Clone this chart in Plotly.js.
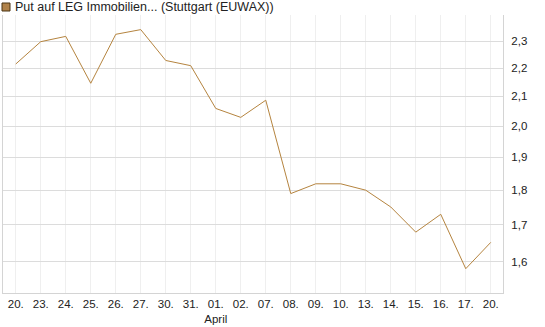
<!DOCTYPE html>
<html>
<head>
<meta charset="utf-8">
<script src="https://cdn.plot.ly/plotly-3.0.1.min.js"></script>
<style>html,body{margin:0;padding:0;background:#fff;}#chart{width:545px;height:327px;}</style>
</head>
<body>
<div id="chart"></div>
<script>
// Data
var dayLabels = ["20.", "23.", "24.", "25.", "26.", "27.", "30.", "31.", "01.<br>April", "02.", "07.", "08.", "09.", "10.", "13.", "14.", "15.", "16.", "17.", "20."];
var prices = [2.215, 2.298, 2.318, 2.146, 2.326, 2.344, 2.228, 2.209, 2.059, 2.029, 2.087, 1.790, 1.819, 1.819, 1.800, 1.751, 1.680, 1.730, 1.582, 1.652];
var yTickVals = [1.6, 1.7, 1.8, 1.9, 2.0, 2.1, 2.2, 2.3];
var yTickText = ["1,6", "1,7", "1,8", "1,9", "2,0", "2,1", "2,2", "2,3"];
var seriesName = "Put auf LEG Immobilien... (Stuttgart (EUWAX))";

var xIdx = dayLabels.map(function (_, i) { return i; });
var lineColor = "#b5843f";

var trace = {
  x: xIdx,
  y: prices,
  type: "scatter",
  mode: "lines",
  line: { color: lineColor, width: 1 },
  showlegend: false,
  hoverinfo: "skip"
};

var mL = 3, mR = 42, mT = 15, mB = 34;
var plotW = 545 - mL - mR, plotH = 327 - mT - mB;

var layout = {
  width: 545,
  height: 327,
  margin: { l: mL, r: mR, t: mT, b: mB },
  paper_bgcolor: "#ffffff",
  plot_bgcolor: "#ffffff",
  font: { family: "Liberation Sans, Arial, sans-serif", size: 11, color: "#222222" },
  xaxis: {
    range: [-0.51, 19.49],
    tickvals: xIdx,
    ticktext: dayLabels,
    tickangle: 0,
    showgrid: true,
    gridcolor: "#efefef",
    gridwidth: 1,
    zeroline: false,
    showline: true,
    linecolor: "#d4d4d4",
    linewidth: 1,
    ticks: "",
    tickfont: { size: 11.5, color: "#222222" },
    fixedrange: true
  },
  yaxis: {
    type: "log",
    side: "right",
    range: [Math.log10(1.520), Math.log10(2.401)],
    tickvals: yTickVals,
    ticktext: yTickText,
    showgrid: true,
    gridcolor: "#dcdcdc",
    gridwidth: 1,
    zeroline: false,
    showline: true,
    mirror: true,
    linecolor: "#d4d4d4",
    linewidth: 1,
    ticks: "outside",
    ticklen: 5,
    tickcolor: "#ffffff",
    tickfont: { size: 11.5, color: "#222222" },
    fixedrange: true
  },
  shapes: [{
    type: "rect", xref: "paper", yref: "paper",
    x0: (2 - mL) / plotW, x1: (10 - mL) / plotW,
    y0: (327 - mB - 11) / plotH, y1: (327 - mB - 3) / plotH,
    fillcolor: "#b0824a", line: { color: "#4a3415", width: 1 }
  }],
  annotations: [{
    xref: "paper", yref: "paper",
    x: (13 - mL) / plotW, y: (327 - mB - 7) / plotH,
    xanchor: "left", yanchor: "middle",
    text: seriesName, showarrow: false,
    font: { size: 12.5, color: "#222222" }
  }]
};

Plotly.newPlot("chart", [trace], layout, { displayModeBar: false, staticPlot: true });
</script>
</body>
</html>
